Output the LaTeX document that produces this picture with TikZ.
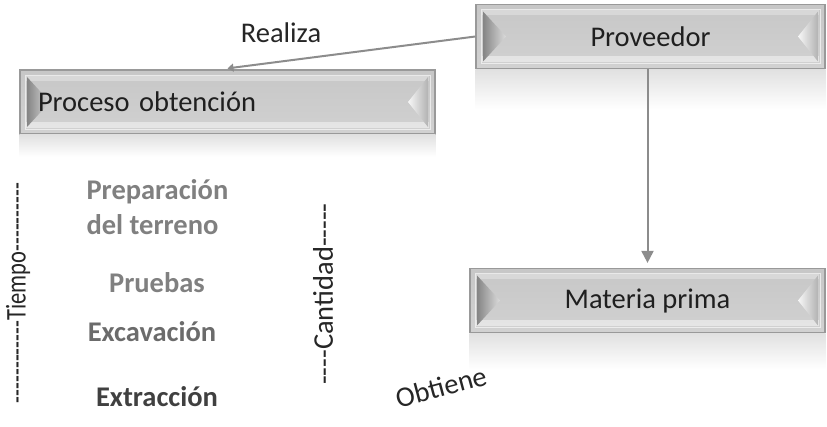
\documentclass[tikz,border=0pt]{standalone}
\usepackage{fontspec}
\setmainfont{Carlito}[Ligatures=TeXOff]
\usetikzlibrary{arrows.meta,calc}

\begin{document}
\begin{tikzpicture}[x=1pt,y=-1pt,
  big/.style={font=\fontsize{28.5pt}{34pt}\selectfont},
  bevelbox/.style={big, minimum width=#1, minimum height=64pt, inner sep=0pt,
    draw=black!40, line width=1.2pt, text=black!88,
    top color=black!22, middle color=black!12, bottom color=black!18,
    path picture={
      \fill[white,opacity=0.45] ($(path picture bounding box.south west)+(6pt,6pt)$) rectangle ($(path picture bounding box.south east)+(-6pt,12pt)$);
      \fill[white,opacity=0.3] ($(path picture bounding box.north west)+(6pt,-6pt)$) rectangle ($(path picture bounding box.north east)+(-6pt,-11pt)$);
      \draw[white,opacity=0.6,line width=0.8pt] ($(path picture bounding box.north west)+(5pt,-5pt)$) rectangle ($(path picture bounding box.south east)+(-5pt,5pt)$);
      \shade[left color=black!48, right color=black!14] ($(path picture bounding box.north west)+(7pt,-7pt)$) -- ($(path picture bounding box.west)+(30pt,0pt)$) -- ($(path picture bounding box.south west)+(7pt,7pt)$) -- cycle;
      \shade[left color=black!3, right color=black!30] ($(path picture bounding box.north east)+(-7pt,-7pt)$) -- ($(path picture bounding box.east)+(-27pt,0pt)$) -- ($(path picture bounding box.south east)+(-7pt,7pt)$) -- cycle;
    }},
  mirror/.style={top color=black!12, bottom color=white, draw=none},
  conn/.style={draw=black!45, line width=2pt, -{Triangle[width=12pt,length=12pt]}},
  stage/.style={font=\fontsize{28.5pt}{35pt}\selectfont\bfseries, text=black!50},
  axislabel/.style={big, rotate=90, text=black!85}]
\useasboundingbox (0,0) rectangle (827,427);

% boxes
\node[bevelbox=349pt] (proveedor) at (650.5,36.5) {Proveedor};
\node[bevelbox=415pt, text width=379pt, align=left] (proceso) at (227.5,102) {Proceso obtención};
\node[bevelbox=355pt] (materia) at (647.5,300.5) {Materia prima};

% reflections
\shade[mirror] (proveedor.south west) rectangle ([yshift=-40pt]proveedor.south east);
\shade[mirror] (proceso.south west) rectangle ([yshift=-22pt]proceso.south east);
\shade[mirror] (materia.south west) rectangle ([yshift=-36pt]materia.south east);

% connectors
\draw[conn, -{Triangle[width=8pt,length=6pt]}] (proveedor.west) -- ([yshift=1pt]proceso.north);
\draw[conn] (proveedor.south -| materia.north) -- ([yshift=5pt]materia.north);

\node[big, text=black!85] (realiza) at (281,33) {Realiza};
\node[big, text=black!85, rotate=15] (obtiene) at (441,387) {Obtiene};

% stages
\node[stage, align=left, anchor=west] (prep) at (83,207) {Preparación\\del terreno};
\node[stage] (pruebas) at (157,283) {Pruebas};
\node[stage, text=black!58] (excav) at (152,332) {Excavación};
\node[stage, text=black!75] (extr) at (157,397) {Extracción};

\node[axislabel] (tiempo) at (18,293) {\scalebox{0.79}[1]{------------Tiempo----------}};
\node[axislabel] (cantidad) at (323,294) {----Cantidad-----};
\end{tikzpicture}
\end{document}
